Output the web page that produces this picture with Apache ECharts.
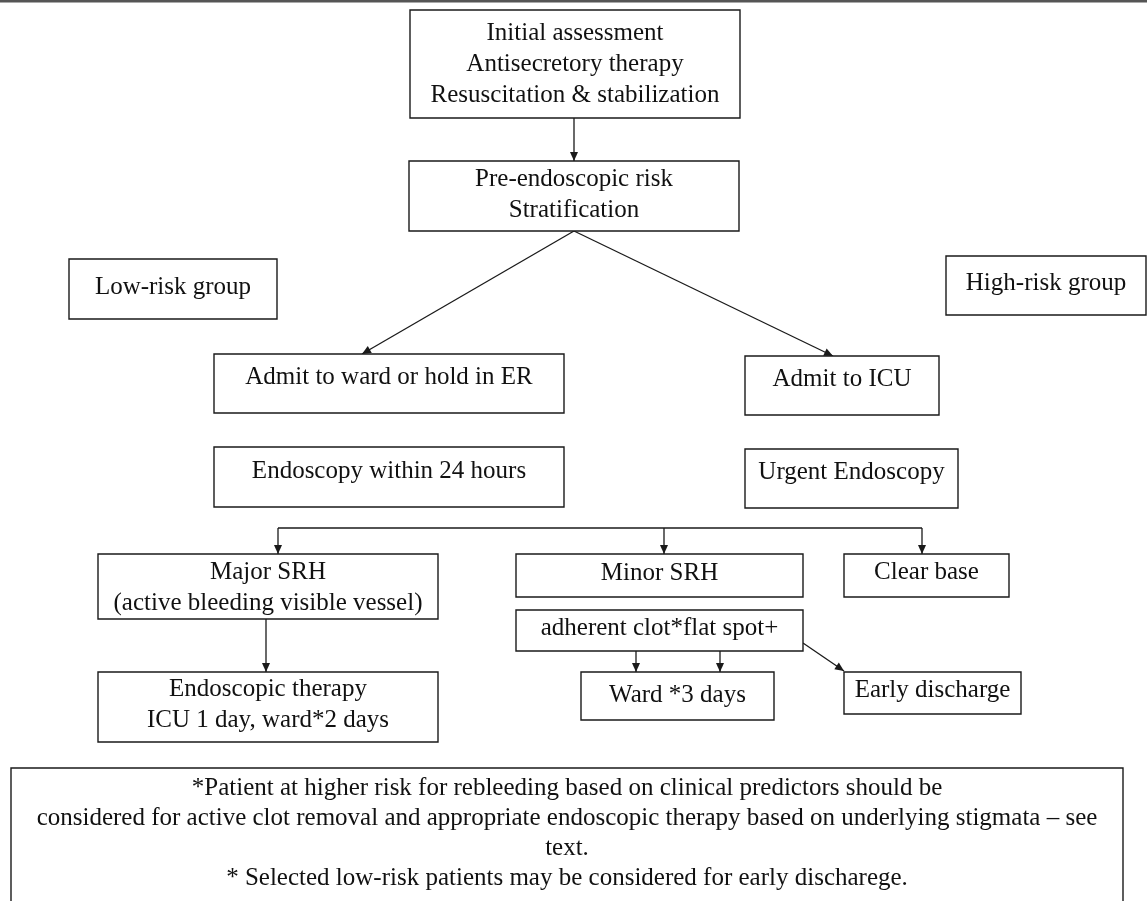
<!DOCTYPE html>
<html>
<head>
<meta charset="utf-8">
<script src="https://cdn.jsdelivr.net/npm/echarts@6/dist/echarts.min.js"></script>
<style>
html, body { margin: 0; padding: 0; background: #ffffff; }
#main { width: 1147px; height: 901px; }
</style>
</head>
<body>
<div id="main"></div>
<script>
// box texts of the flowchart
var boxLabels = [
    'Initial assessment\nAntisecretory therapy\nResuscitation & stabilization',
    'Pre-endoscopic risk\nStratification',
    'Low-risk group',
    'High-risk group',
    'Admit to ward or hold in ER',
    'Admit to ICU',
    'Endoscopy within 24 hours',
    'Urgent Endoscopy',
    'Major SRH\n(active bleeding visible vessel)',
    'Minor SRH',
    'Clear base',
    'adherent clot*flat spot+',
    'Endoscopic therapy\nICU 1 day, ward*2 days',
    'Ward *3 days',
    'Early discharge'
];

var footnoteLines = [
    '*Patient at higher risk for rebleeding based on clinical predictors should be',
    'considered for active clot removal and appropriate endoscopic therapy based on underlying stigmata \u2013 see',
    'text.',
    '* Selected low-risk patients may be considered for early discharege.'
];

// layout, in page units: x0, y0, x1, y1, text offset
var boxRects = [
    [410, 10, 740, 118, 0],
    [409, 161, 739, 231, -1],
    [69, 259, 277, 319, -2],
    [946, 256, 1146, 315, -2],
    [214, 354, 564, 413, -6],
    [745, 356, 939, 415, -6],
    [214, 447, 564, 507, -6],
    [745, 449, 958, 508, -6],
    [98, 554, 438, 619, 1],
    [516, 554, 803, 597, -2],
    [844, 554, 1009, 597, -3],
    [516, 610, 803, 651, -2],
    [98, 672, 438, 742, -2],
    [581, 672, 774, 720, -1],
    [844, 672, 1021, 714, -3]
];

// connector paths, last point gets an arrow when flag is 1
var connectors = [
    [[[574, 118], [574, 161]], 1],
    [[[574, 231], [362, 354]], 1],
    [[[574, 231], [833, 356]], 1],
    [[[278, 528], [922, 528]], 0],
    [[[278, 528], [278, 554]], 1],
    [[[664, 528], [664, 554]], 1],
    [[[922, 528], [922, 554]], 1],
    [[[266, 619], [266, 672]], 1],
    [[[636, 651], [636, 672]], 1],
    [[[720, 651], [720, 672]], 1],
    [[[803, 643], [844, 671]], 1]
];

var footBox = [11, 768, 1123, 901];
var footLineY = [788, 818, 848, 878];

var FONT = '25px "Liberation Serif", "Times New Roman", serif';
var INK = '#1a1a1a';

var dom = document.getElementById('main');
var myChart = echarts.init(dom);

function renderBox(params, api) {
    var i = api.value(0);
    var r = boxRects[i];
    var p0 = api.coord([r[0], r[1]]);
    var p1 = api.coord([r[2], r[3]]);
    return {
        type: 'group',
        children: [{
            type: 'rect',
            shape: { x: p0[0], y: p0[1], width: p1[0] - p0[0], height: p1[1] - p0[1] },
            style: { fill: '#ffffff', stroke: INK, lineWidth: 1.4 }
        }, {
            type: 'text',
            x: (p0[0] + p1[0]) / 2,
            y: (p0[1] + p1[1]) / 2 + r[4],
            style: {
                text: boxLabels[i],
                font: FONT,
                fill: '#111111',
                align: 'center',
                verticalAlign: 'middle',
                lineHeight: 31
            }
        }]
    };
}

function renderConnector(params, api) {
    var c = connectors[api.value(0)];
    var pts = c[0].map(function (p) { return api.coord(p); });
    var children = [{
        type: 'polyline',
        shape: { points: pts },
        style: { stroke: INK, lineWidth: 1.3, fill: null }
    }];
    if (c[1]) {
        var a = pts[pts.length - 2], b = pts[pts.length - 1];
        var ang = Math.atan2(b[1] - a[1], b[0] - a[0]);
        var len = 9, half = 4;
        var bx = b[0] - len * Math.cos(ang), by = b[1] - len * Math.sin(ang);
        children.push({
            type: 'polygon',
            shape: { points: [
                b,
                [bx + half * Math.sin(ang), by - half * Math.cos(ang)],
                [bx - half * Math.sin(ang), by + half * Math.cos(ang)]
            ] },
            style: { fill: INK }
        });
    }
    return { type: 'group', children: children };
}

function renderFootnote(params, api) {
    var p0 = api.coord([footBox[0], footBox[1]]);
    var p1 = api.coord([footBox[2], footBox[3]]);
    var children = [{
        type: 'polyline',
        shape: { points: [[p0[0], p1[1]], p0, [p1[0], p0[1]], p1] },
        style: { stroke: INK, lineWidth: 1.4, fill: null }
    }];
    footnoteLines.forEach(function (t, k) {
        var p = api.coord([(footBox[0] + footBox[2]) / 2, footLineY[k]]);
        children.push({
            type: 'text',
            x: p[0],
            y: p[1],
            style: { text: t, font: FONT, fill: '#111111', align: 'center', verticalAlign: 'middle' }
        });
    });
    return { type: 'group', children: children };
}

option = {
    animation: false,
    backgroundColor: '#ffffff',
    grid: { left: 0, right: 0, top: 0, bottom: 0 },
    xAxis: { type: 'value', min: 0, max: 1147, show: false },
    yAxis: { type: 'value', min: 0, max: 901, inverse: true, show: false },
    graphic: [{
        type: 'rect',
        shape: { x: 0, y: 0, width: 1147, height: 2.5 },
        style: { fill: '#555555' }
    }],
    series: [{
        type: 'custom',
        name: 'connectors',
        renderItem: renderConnector,
        data: connectors.map(function (c, i) { return [i, c[0][0][0], c[0][0][1]]; }),
        encode: { x: 1, y: 2 },
        silent: true
    }, {
        type: 'custom',
        name: 'boxes',
        renderItem: renderBox,
        data: boxRects.map(function (r, i) { return [i, r[0], r[1]]; }),
        encode: { x: 1, y: 2 },
        silent: true
    }, {
        type: 'custom',
        name: 'footnote',
        renderItem: renderFootnote,
        data: [[0, footBox[0], footBox[1]]],
        encode: { x: 1, y: 2 },
        silent: true
    }]
};

if (option && typeof option === "object") {
    myChart.setOption(option, true);
}
</script>
</body>
</html>
